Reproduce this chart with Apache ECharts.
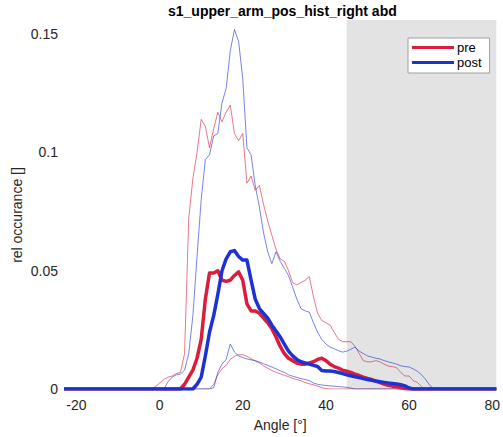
<!DOCTYPE html>
<html>
<head>
<meta charset="utf-8">
<script src="https://cdn.jsdelivr.net/npm/echarts@6/dist/echarts.min.js"></script>
<style>
  html, body { margin: 0; padding: 0; background: #fff; }
  #chart { width: 503px; height: 437px; }
</style>
</head>
<body>
<div id="chart"></div>
<script>
// Histogram bins (degrees): first and last bin of the angle grid
const binFirst = -23;
const binLast = 81;

// Tick labels
const xTicks = [-20, 0, 20, 40, 60, 80];
const yTicks = [0, 0.05, 0.1, 0.15];

// Shaded range of the angle axis
const shadeRange = [45, 81];

// Each curve: angle of its first listed value, then the values (zero outside)
const preMeanStart = 5;
const preMean = [0, 0.002, 0.005, 0.008, 0.013, 0.021, 0.038, 0.049, 0.049, 0.050,
  0.046, 0.0455, 0.046, 0.048, 0.0495, 0.046, 0.036, 0.033, 0.033, 0.032,
  0.030, 0.028, 0.0255, 0.022, 0.018, 0.015, 0.013, 0.012, 0.011, 0.0105,
  0.0105, 0.011, 0.0115, 0.0125, 0.013, 0.012, 0.0105, 0.0095, 0.0088, 0.008,
  0.0075, 0.007, 0.0063, 0.0057, 0.005, 0.0045, 0.004, 0.0033, 0.0027, 0.0021,
  0.0016, 0.0012, 0.0009, 0.0005, 0.0002, 0];

const postMeanStart = 8;
const postMean = [0, 0.002, 0.005, 0.014, 0.024, 0.031, 0.040, 0.050, 0.055, 0.058,
  0.0585, 0.056, 0.0545, 0.0545, 0.046, 0.038, 0.034, 0.032, 0.030, 0.027,
  0.0245, 0.022, 0.019, 0.016, 0.014, 0.0125, 0.0115, 0.011, 0.0105, 0.010,
  0.0095, 0.0078, 0.0076, 0.0076, 0.0074, 0.007, 0.0065, 0.006, 0.0056, 0.0052,
  0.0048, 0.0044, 0.004, 0.0037, 0.0034, 0.0031, 0.0028, 0.0025, 0.0023, 0.0021,
  0.0018, 0.0013, 0.0004, 0];

const preUpperStart = -2;
const preUpper = [0, 0.001, 0.0025, 0.004, 0.005, 0.0055, 0.0065, 0.007, 0.015, 0.072,
  0.089, 0.100, 0.114, 0.111, 0.102, 0.110, 0.117, 0.113, 0.117, 0.120,
  0.108, 0.105, 0.108, 0.087, 0.090, 0.084, 0.086, 0.078, 0.071, 0.065,
  0.059, 0.055, 0.054, 0.050, 0.045, 0.044, 0.045, 0.046, 0.0475, 0.039,
  0.032, 0.029, 0.028, 0.027, 0.024, 0.021, 0.020, 0.020, 0.020, 0.018,
  0.015, 0.012, 0.0115, 0.0115, 0.012, 0.0115, 0.0105, 0.0097, 0.0095, 0.009,
  0.007, 0.0055, 0.0055, 0.0035, 0.0028, 0.001, 0];

const postUpperStart = 1;
const postUpper = [0, 0.003, 0.005, 0.006, 0.0063, 0.008, 0.015, 0.031, 0.056, 0.080,
  0.097, 0.099, 0.107, 0.108, 0.121, 0.127, 0.143, 0.152, 0.147, 0.131,
  0.102, 0.099, 0.086, 0.077, 0.066, 0.058, 0.053, 0.058, 0.054, 0.051,
  0.048, 0.043, 0.038, 0.034, 0.033, 0.0325, 0.028, 0.024, 0.021, 0.019,
  0.0177, 0.017, 0.0162, 0.0156, 0.016, 0.0168, 0.0177, 0.016, 0.015, 0.014,
  0.0135, 0.013, 0.0127, 0.012, 0.0115, 0.011, 0.0105, 0.0098, 0.0095, 0.0093,
  0.0085, 0.0075, 0.006, 0.004, 0.0015, 0];

const preLowerStart = 12;
const preLower = [0, 0.002, 0.006, 0.0085, 0.010, 0.0125, 0.0138, 0.0145, 0.0145, 0.0138,
  0.0128, 0.0118, 0.011, 0.0098, 0.0088, 0.0078, 0.0071, 0.0064, 0.0058, 0.0052,
  0.0045, 0.004, 0.0035, 0.0027, 0.0022, 0.0018, 0.0012, 0.0006, 0.0002, 0];

const postLowerStart = 12;
const postLower = [0, 0.0005, 0.007, 0.0105, 0.0125, 0.019, 0.0156, 0.014, 0.0133, 0.0127,
  0.0123, 0.012, 0.0114, 0.0107, 0.010, 0.0093, 0.0085, 0.0077, 0.007, 0.006,
  0.0054, 0.0049, 0.0044, 0.004, 0.0036, 0.0025, 0.002, 0.0017, 0.0015, 0.0013,
  0.0012, 0.001, 0.0009, 0.0007, 0.0004, 0];

// Expand a curve onto the full bin grid as [angle, value] pairs
function onGrid(start, values) {
  const pts = [];
  for (let a = binFirst; a <= binLast; a++) {
    const i = a - start;
    pts.push([a, i >= 0 && i < values.length ? values[i] : 0]);
  }
  return pts;
}

const RED = '#d81e3c';
const BLUE = '#1e32d2';
const FONT = '"Liberation Sans", Arial, Helvetica, sans-serif';

function thin(name, color, start, values) {
  return {
    name, type: 'line', symbol: 'none', z: 2,
    data: onGrid(start, values),
    lineStyle: { color, width: 1, opacity: 0.6 },
    itemStyle: { color }
  };
}
function thick(name, color, start, values) {
  return {
    name, type: 'line', symbol: 'none', z: 3,
    data: onGrid(start, values),
    lineStyle: { color, width: 3.5, join: 'round' },
    itemStyle: { color }
  };
}

const chart = echarts.init(document.getElementById('chart'), null, { renderer: 'svg' });
chart.setOption({
  animation: false,
  backgroundColor: '#fff',
  textStyle: { fontFamily: FONT },
  graphic: [
    {
      type: 'text', left: 280 - 112, top: 4, z: 10,
      style: { text: 's1_upper_arm_pos_hist_right abd', fontFamily: FONT, fontSize: 14,
               fontWeight: 'bold', fill: '#000' }
    },
    {
      type: 'text', x: 17, y: 215, rotation: Math.PI / 2, z: 10,
      style: { text: 'rel occurance []', fontFamily: FONT, fontSize: 14, fill: '#262626',
               align: 'center', verticalAlign: 'middle' }
    }
  ],
  legend: {
    data: ['pre', 'post'],
    orient: 'vertical',
    left: 408, top: 38,
    icon: 'rect', itemWidth: 42, itemHeight: 3, itemGap: 2,
    padding: [3, 8, 4, 4],
    backgroundColor: '#fff', borderColor: '#a0a0a0', borderWidth: 1, borderRadius: 0,
    textStyle: { fontFamily: FONT, fontSize: 13, color: '#000', padding: [0, 0, 0, -2] },
    selectedMode: false
  },
  grid: { left: 64, right: 5, top: 20, bottom: 47, containLabel: false },
  xAxis: {
    type: 'value', min: binFirst, max: binLast,
    name: 'Angle [°]', nameLocation: 'middle', nameGap: 29,
    nameTextStyle: { fontFamily: FONT, fontSize: 14, color: '#262626' },
    axisLine: { show: false }, axisTick: { show: false }, splitLine: { show: false },
    axisLabel: { customValues: xTicks, fontFamily: FONT, fontSize: 14, color: '#262626', margin: 9 }
  },
  yAxis: {
    type: 'value', min: 0, max: 0.156,
    axisLine: { show: false }, axisTick: { show: false }, splitLine: { show: false },
    axisLabel: { customValues: yTicks, fontFamily: FONT, fontSize: 14, color: '#262626', margin: 6 }
  },
  series: [
    {
      name: 'region', type: 'line', data: [], z: 1, silent: true,
      markArea: {
        silent: true,
        itemStyle: { color: '#e3e3e3' },
        data: [[{ xAxis: shadeRange[0] }, { xAxis: shadeRange[1] }]]
      }
    },
    thin('pre upper', RED, preUpperStart, preUpper),
    thin('post upper', BLUE, postUpperStart, postUpper),
    thin('pre lower', RED, preLowerStart, preLower),
    thin('post lower', BLUE, postLowerStart, postLower),
    thick('pre', RED, preMeanStart, preMean),
    thick('post', BLUE, postMeanStart, postMean)
  ]
});
</script>
</body>
</html>
